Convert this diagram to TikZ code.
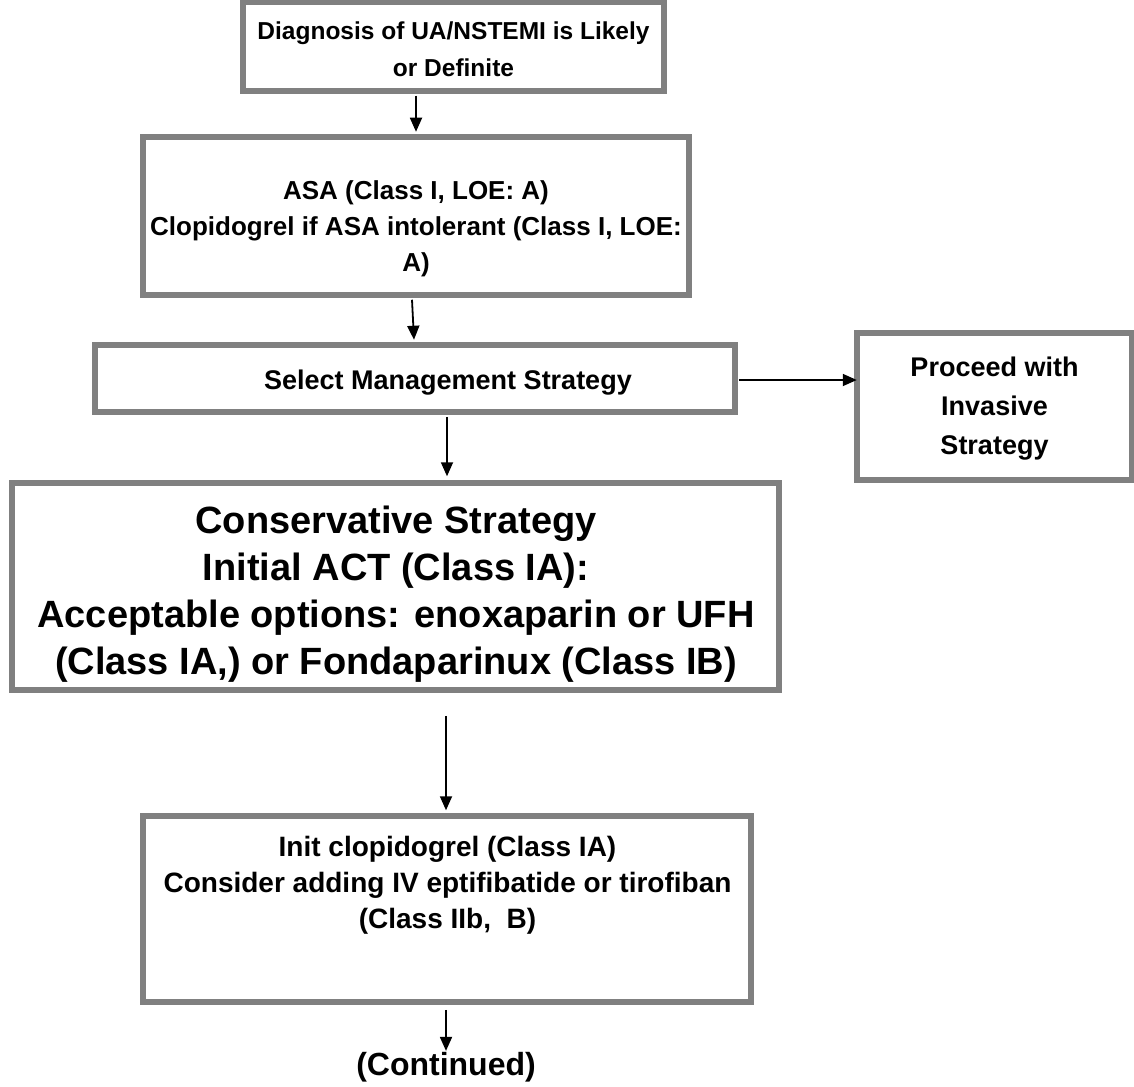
\documentclass[tikz,border=0pt]{standalone}
\usepackage{fontspec}
\setmainfont{Liberation Sans}
\usetikzlibrary{arrows.meta,calc}
\definecolor{bordergray}{HTML}{808080}
\begin{document}
\begin{tikzpicture}[x=1pt,y=1pt,
  box/.style={draw=bordergray, line width=5.5pt, fill=white, inner sep=0pt},
  txt/.style={align=center, inner sep=0pt},
  arr/.style={draw=black, line width=1.8pt, -{Triangle[width=12pt,length=14pt]}}]
\useasboundingbox (0,0) rectangle (1134,-1086);
% boxes
\node[box, minimum width=421pt, minimum height=89pt] (b1) at (453.5,-46.5) {};
\node[box, minimum width=546pt, minimum height=158pt] (b2) at (416,-216) {};
\node[box, minimum width=640pt, minimum height=67pt] (b3) at (415,-378.5) {};
\node[box, minimum width=275pt, minimum height=147pt] (bR) at (994.5,-406.5) {};
\node[box, minimum width=767pt, minimum height=207pt] (b4) at (395.5,-586.5) {};
\node[box, minimum width=608pt, minimum height=186pt] (b5) at (447,-909) {};
% texts
\node[txt, font=\fontsize{24.5}{37}\selectfont\bfseries] (t1) at (453.5,-49)
  {Diagnosis of UA/NSTEMI is Likely\\or Definite};
\node[txt, font=\fontsize{26}{36}\selectfont\bfseries] (t2) at (416,-228.5)
  {ASA (Class I, LOE: A)\\Clopidogrel if ASA intolerant (Class I, LOE:\\A)};
\node[txt, font=\fontsize{27}{32}\selectfont\bfseries] (t3) at (448,-382.5)
  {Select Management Strategy};
\node[txt, font=\fontsize{27}{39}\selectfont\bfseries] (tR) at (994.5,-408.5)
  {Proceed with\\Invasive\\Strategy};
\node[txt, font=\fontsize{38}{47}\selectfont\bfseries] (t4) at (396,-594)
  {Conservative Strategy\\Initial ACT (Class IA):\\Acceptable options: enoxaparin or UFH\\(Class IA,) or Fondaparinux (Class IB)};
\node[txt, font=\fontsize{28}{36}\selectfont\bfseries] (t5) at (447.5,-885)
  {Init clopidogrel (Class IA)\\Consider adding IV eptifibatide or tirofiban\\(Class IIb,\ \ B)};
\node[txt, font=\fontsize{32}{38}\selectfont\bfseries] (cont) at (446,-1067) {(Continued)};
% connectors
\draw[arr] ([xshift=-37.5pt,yshift=-2pt]b1.south) -- ([yshift=2.5pt]b2.north);
\draw[arr] ([xshift=-4pt,yshift=-2pt]b2.south) -- ([xshift=-1pt,yshift=2.5pt]b3.north);
\draw[arr] ([xshift=1pt,yshift=-1.5pt]b3.east) -- ([xshift=2.5pt,yshift=-1.5pt]b3.east -| bR.west);
\draw[arr] ([xshift=32pt,yshift=-2pt]b3.south) -- ([xshift=32pt,yshift=4pt]b3.south |- b4.north);
\draw[arr] ([xshift=50.5pt,yshift=-23pt]b4.south) -- ([xshift=-1pt,yshift=3pt]b5.north);
\draw[arr] ([xshift=-1pt,yshift=-5pt]b5.south) -- ([yshift=1pt]cont.north);
\end{tikzpicture}
\end{document}
